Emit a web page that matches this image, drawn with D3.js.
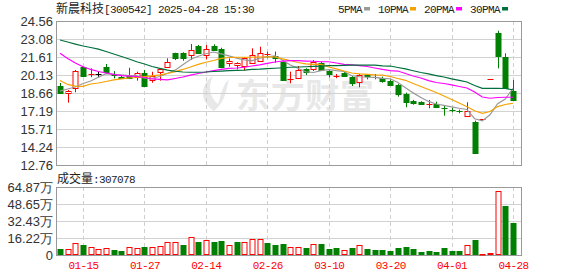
<!DOCTYPE html>
<html><head><meta charset="utf-8">
<script src="https://cdn.jsdelivr.net/npm/d3@7/dist/d3.min.js"></script>
<style>html,body{margin:0;padding:0;background:#fff}svg{display:block}</style>
</head><body>
<svg id="c" width="578" height="276"></svg>
<script>
// ---------- data ----------
const dates = ["01-10","01-13","01-14","01-15","01-16","01-17","01-20","01-21","01-22","01-23","01-24","01-27",
"02-05","02-06","02-07","02-10","02-11","02-12","02-13","02-14","02-17","02-18","02-19","02-20","02-21","02-24","02-25","02-26","02-27","02-28",
"03-03","03-04","03-05","03-06","03-07","03-10","03-11","03-12","03-13","03-14","03-17","03-18","03-19","03-20","03-21","03-24","03-25","03-26","03-27","03-28","03-31",
"04-01","04-02","04-03","04-07","04-08","04-23","04-24","04-25","04-28"];
const open = [19.23,18.69,19.05,20.77,20.15,20.2,20.82,20.22,20.0,20.16,20.0,20.27,19.73,20.36,20.82,21.94,21.96,21.77,22.51,21.77,22.51,22.27,21.09,20.93,20.87,21.09,21.31,21.82,21.69,21.18,19.78,19.86,20.63,20.63,21.09,20.49,20.04,20.32,20.0,19.54,20.14,19.97,19.86,19.65,19.32,18.55,18.0,17.93,17.7,17.76,17.42,17.3,17.2,16.8,16.31,16.5,19.8,23.6,21.59,18.82];
const high = [19.48,18.9,20.55,20.83,20.68,20.38,21.04,20.46,20.05,20.73,20.41,20.55,20.4,20.63,21.5,21.96,22.0,22.68,22.6,22.59,22.65,22.37,21.5,21.17,21.58,22.32,22.45,22.05,22.05,21.23,20.41,20.87,20.69,21.36,21.22,20.55,20.22,20.4,20.05,20.22,20.22,20.22,20.0,19.78,19.4,18.69,18.1,17.98,18.09,17.95,17.6,17.45,17.3,17.9,16.4,16.5,19.8,23.76,21.91,19.73];
const low = [18.58,17.87,18.72,19.97,19.95,19.95,20.3,19.86,19.82,19.8,19.67,19.2,19.5,19.67,20.73,21.36,21.3,21.36,21.9,21.42,22.13,20.69,20.82,20.6,20.49,21.05,21.23,21.5,21.14,19.7,19.46,19.8,20.14,20.46,20.46,19.95,19.87,20.0,19.23,19.13,19.78,19.78,19.51,19.23,18.36,17.49,17.7,17.68,17.41,17.5,16.8,17.08,17.0,16.78,13.75,16.5,19.8,20.68,18.99,18.05];
const close = [18.66,18.85,20.46,20.05,20.2,20.2,20.36,20.11,19.86,19.86,20.27,19.26,20.08,20.6,21.18,21.53,21.5,22.18,21.96,22.24,22.2,20.77,21.31,21.09,21.5,21.77,21.91,21.86,21.5,19.73,19.81,20.55,20.41,21.18,20.55,20.22,20.07,20.08,19.45,20.14,20.02,20.0,19.67,19.32,18.58,17.95,17.85,17.75,17.72,17.54,17.38,17.26,17.17,17.19,13.75,16.5,19.8,21.72,19.1,18.09];
// volume in 万
const volume = [5.7,5.4,11.1,9.5,7.3,5.4,6.4,4.8,3.8,7.3,6.4,7.6,7.3,8.3,12.1,12.1,9.5,16.9,12.4,14.0,12.4,13.4,9.2,12.4,12.1,14.9,14.9,11.4,9.5,10.5,7.3,7.3,6.7,10.2,10.5,5.7,6.7,4.5,6.7,9.5,5.7,4.8,4.8,3.8,6.7,7.6,5.7,2.9,3.8,2.9,6.7,3.8,3.8,9.5,14.3,0.6,1.6,60.7,47.1,30.7078];
const ma5 = [18.82,18.99,19.15,19.44,19.64,19.95,20.25,20.18,20.15,20.08,20.09,19.87,19.87,20.01,20.28,20.53,20.98,21.40,21.67,21.88,22.02,21.87,21.70,21.52,21.37,21.29,21.52,21.63,21.71,21.35,20.96,20.69,20.40,20.34,20.50,20.58,20.49,20.42,20.07,19.99,19.95,19.94,19.86,19.83,19.52,19.10,18.67,18.29,17.97,17.76,17.65,17.53,17.41,17.31,16.55,16.37,16.88,17.79,18.17,19.04];
const ma10 = [19.68,19.36,19.23,19.21,19.40,19.48,19.60,19.73,19.81,19.89,19.93,20.00,20.07,20.15,20.26,20.41,20.59,20.79,21.00,21.18,21.32,21.50,21.57,21.59,21.59,21.59,21.61,21.63,21.61,21.45,21.32,21.16,21.04,21.00,21.00,20.79,20.64,20.46,20.30,20.22,20.19,20.15,20.13,20.01,19.85,19.70,19.44,19.19,18.95,18.70,18.41,18.13,17.84,17.54,17.20,17.00,17.14,17.55,17.72,17.82];
const ma20 = [21.91,21.49,21.12,20.81,20.59,20.42,20.30,20.18,20.09,20.05,20.01,19.93,19.81,19.77,19.74,19.85,19.97,20.13,20.26,20.38,20.50,20.60,20.67,20.71,20.77,20.87,20.97,21.09,21.20,21.28,21.31,21.31,21.28,21.26,21.22,21.22,21.12,21.01,20.97,20.91,20.83,20.71,20.59,20.50,20.46,20.26,20.05,19.89,19.68,19.52,19.44,19.32,19.19,19.07,18.74,18.33,18.23,18.29,18.31,18.31];
const ma30 = [23.00,22.84,22.67,22.51,22.39,22.25,22.06,21.86,21.65,21.45,21.22,21.04,20.83,20.68,20.54,20.44,20.38,20.36,20.36,20.38,20.42,20.46,20.49,20.52,20.54,20.59,20.61,20.66,20.69,20.73,20.77,20.79,20.81,20.84,20.87,20.90,20.91,20.93,20.95,20.95,20.95,20.94,20.89,20.87,20.75,20.63,20.48,20.34,20.22,20.09,19.97,19.82,19.70,19.56,19.27,19.04,19.04,19.04,19.03,18.91];
const priceTicks = [24.56,23.08,21.61,20.13,18.66,17.19,15.71,14.24,12.76];
const volTicks = [64.87,48.65,32.43,16.22,0];
const volTickLabels = ["64.87万","48.65万","32.43万","16.22万","0"];
const xTickLabels = ["01-15","01-27","02-14","02-26","03-10","03-20","04-01","04-28"];
const maNames = ["5PMA","10PMA","20PMA","30PMA"];
const stockName = "新晨科技";
const titleRest = "[300542] 2025-04-28 15:30";
const lastVolume = 307078;

// ---------- layout ----------
const L = 56, R = 522, mTop = 21, mBot = 165, vTop = 187, vBot = 255;
const RED = "#ff0000", GREEN = "#008000";
const maColors = ["#999999", "#f5a200", "#ff00ff", "#006f3c"];
const MONO = "'Liberation Mono', monospace";
const SANS = "'Liberation Sans', Arial, sans-serif";
const CJK = "'Noto Sans CJK SC', sans-serif";

const svg = d3.select("#c");
const x = d3.scalePoint().domain(dates).range([60, 513]);
const y = d3.scaleLinear().domain([12.76, 24.56]).range([mBot, mTop]);
const yv = d3.scaleLinear().domain([0, 64.87]).range([vBot, vTop]);
const px = v => Math.round(v) + 0.5;

// watermark
const wm = svg.append("g").attr("fill", "#e8e8e8");
wm.append("path").attr("d", "M214,111 C199,101 200,84 213,76 C208,86 209,96 218,104 C221,95 222,86 229,79 C226,90 226,101 214,111 Z");
wm.append("text").attr("x", 236).attr("y", 108).attr("font-family", CJK).attr("font-weight", 700)
  .attr("font-size", 34).attr("textLength", 138).attr("lengthAdjust", "spacing").text("东方财富");

// grids
function panelGrid(top, bot, yTickPos) {
  const g = svg.append("g");
  yTickPos.forEach(p => {
    if (Math.abs(p - top) > 1 && Math.abs(p - bot) > 1)
      g.append("line").attr("x1", L).attr("x2", R).attr("y1", px(p)).attr("y2", px(p))
        .attr("stroke", "#d2d2d2").attr("stroke-width", 1);
  });
  xTickLabels.forEach(d => {
    g.append("line").attr("x1", px(x(d))).attr("x2", px(x(d))).attr("y1", top).attr("y2", bot)
      .attr("stroke", "#d0d0d0").attr("stroke-dasharray", "4,3");
  });
  g.append("rect").attr("x", L + 0.5).attr("y", top + 0.5).attr("width", R - L - 1).attr("height", bot - top)
    .attr("fill", "none").attr("stroke", "#999").attr("stroke-width", 1);
}
panelGrid(mTop, mBot, priceTicks.map(t => y(t)));
panelGrid(vTop, vBot, volTicks.map(t => yv(t)));

// y labels
svg.append("g").selectAll("text").data(priceTicks).join("text")
  .attr("x", 53).attr("y", d => y(d)).attr("dy", "0.36em").attr("text-anchor", "end")
  .attr("font-family", SANS).attr("font-size", 13).attr("fill", "#333").text(d => d.toFixed(2));
svg.append("g").selectAll("text").data(volTicks).join("text")
  .attr("x", 53).attr("y", d => yv(d)).attr("dy", "0.36em").attr("text-anchor", "end")
  .attr("font-family", SANS).attr("font-size", 13).attr("fill", "#333").text((d, i) => volTickLabels[i]);

// x labels
svg.append("g").selectAll("text").data(xTickLabels).join("text")
  .attr("x", d => x(d) + 0.5).attr("y", 269).attr("text-anchor", "middle")
  .attr("font-family", MONO).attr("font-size", 11).attr("letter-spacing", "-0.6")
  .attr("fill", RED).text(d => d);

// candle colour
function candleColor(i) {
  if (close[i] > open[i]) return RED;
  if (close[i] < open[i]) return GREEN;
  const pc = i > 0 ? close[i - 1] : close[i];
  return close[i] > pc ? RED : close[i] < pc ? GREEN : "#000";
}
function volUp(i) {
  if (i === 0) return close[i] >= open[i];
  return close[i] >= close[i - 1];
}

// candles
const cg = svg.append("g");
dates.forEach((d, i) => {
  const cx = x(d), col = candleColor(i);
  const wx = px(cx);
  const yo = y(open[i]), yc = y(close[i]);
  cg.append("line").attr("x1", wx).attr("x2", wx).attr("y1", y(high[i])).attr("y2", y(low[i]))
    .attr("stroke", col).attr("stroke-width", 1);
  const top = Math.min(yo, yc), bot = Math.max(yo, yc);
  const left = Math.round(cx) - 2;
  if (bot - top < 1.2) {
    cg.append("line").attr("x1", left - 0.5).attr("x2", left + 5.5).attr("y1", px(top)).attr("y2", px(top))
      .attr("stroke", col).attr("stroke-width", 1);
  } else if (col === RED) {
    cg.append("rect").attr("x", left).attr("y", Math.round(top) + 0.5).attr("width", 5)
      .attr("height", Math.max(1, Math.round(bot) - Math.round(top)))
      .attr("fill", "#fff").attr("stroke", RED).attr("stroke-width", 1);
  } else {
    cg.append("rect").attr("x", left - 0.5).attr("y", Math.round(top)).attr("width", 6)
      .attr("height", Math.max(1, Math.round(bot) - Math.round(top) + 1)).attr("fill", col);
  }
});

// moving averages
[ma5, ma10, ma20, ma30].forEach((arr, k) => {
  svg.append("path").datum(arr)
    .attr("d", d3.line().x((v, i) => x(dates[i])).y(v => y(v)))
    .attr("fill", "none").attr("stroke", maColors[k]).attr("stroke-width", 1.2);
});

// volume bars
const vg = svg.append("g");
dates.forEach((d, i) => {
  const left = Math.round(x(d)) - 2;
  const top = Math.round(yv(volume[i]));
  if (volUp(i)) {
    vg.append("rect").attr("x", left).attr("y", top + 0.5).attr("width", 5)
      .attr("height", Math.max(0.5, vBot - top - 1)).attr("fill", "#fff").attr("stroke", RED);
  } else {
    vg.append("rect").attr("x", left - 0.5).attr("y", top).attr("width", 6)
      .attr("height", vBot - top).attr("fill", GREEN);
  }
});

// title
const tt = svg.append("text").attr("x", 56).attr("y", 13).attr("fill", "#222");
tt.append("tspan").attr("font-family", CJK).attr("font-size", 12).text(stockName);
tt.append("tspan").attr("font-family", MONO).attr("font-size", 11).attr("letter-spacing", "-0.6").text(titleRest);

// legend
let lx = 338;
maNames.forEach((n, k) => {
  const t = svg.append("text").attr("x", lx).attr("y", 13).attr("font-family", MONO).attr("font-size", 11)
    .attr("letter-spacing", "-0.6").attr("fill", "#222").text(n);
  const w = t.node().getComputedTextLength();
  svg.append("rect").attr("x", lx + w + 2).attr("y", 7).attr("width", 6).attr("height", 3.5).attr("fill", maColors[k]);
  lx += w + 2 + 6 + 8;
});

// volume title
const vt = svg.append("text").attr("x", 57).attr("y", 183).attr("fill", "#222");
vt.append("tspan").attr("font-family", CJK).attr("font-size", 12).text("成交量");
vt.append("tspan").attr("font-family", MONO).attr("font-size", 11).attr("letter-spacing", "-0.6").text(":" + lastVolume);
</script>
</body></html>
